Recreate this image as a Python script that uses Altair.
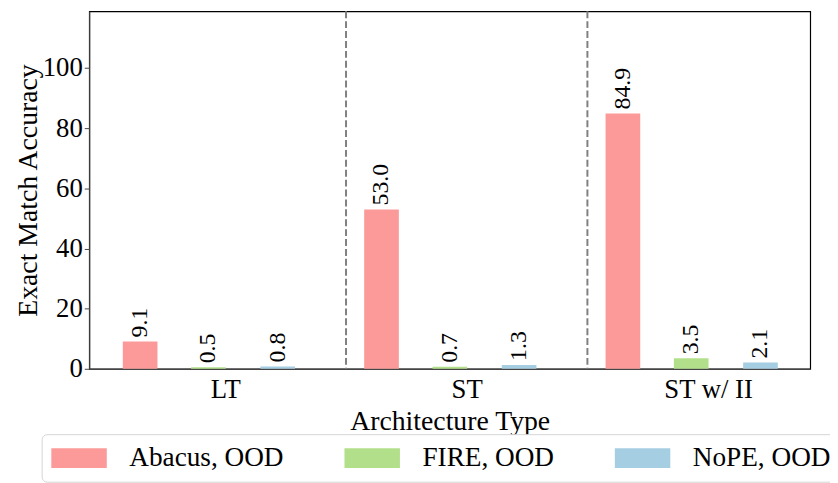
import altair as alt
import pandas as pd

categories = ["LT", "ST", "ST w/ II"]
series = ["Abacus, OOD", "FIRE, OOD", "NoPE, OOD"]
abacus = [9.1, 53.0, 84.9]
fire = [0.5, 0.7, 3.5]
nope = [0.8, 1.3, 2.1]
colors = ["#FB9A99", "#B2DF8A", "#A6CEE3"]

FONT = "Liberation Serif"
offsets = [-0.353, -0.07, 0.217]
half_w = 0.0718

rows = []
for si, (name, vals) in enumerate(zip(series, [abacus, fire, nope])):
    for gi, v in enumerate(vals):
        rows.append({"gi": gi, "si": si, "series": name, "value": v})
df = pd.DataFrame(rows)

xscale = alt.Scale(domain=[-0.564, 2.423], nice=False, zero=False)
yscale = alt.Scale(domain=[0, max(abacus) * 1.4], nice=False)

base = alt.Chart(df).transform_calculate(
    xc="datum.gi + [" + ",".join(str(o) for o in offsets) + "][datum.si]"
).transform_calculate(
    x0=f"datum.xc - {half_w}", x1=f"datum.xc + {half_w}"
)

label_expr = "[" + ",".join(f"'{c}'" for c in categories) + "][datum.value]"

bars = base.mark_bar().encode(
    x=alt.X("x0:Q", scale=xscale,
            axis=alt.Axis(values=list(range(len(categories))), labelExpr=label_expr,
                          title="Architecture Type", ticks=False, grid=False,
                          labelFont=FONT, labelFontSize=27, labelColor="black",
                          labelPadding=8, titleFont=FONT, titleFontSize=28,
                          titleFontWeight="normal", titleColor="black", titlePadding=5,
                          domainColor="#444", domainWidth=1.2)),
    x2="x1:Q",
    y=alt.Y("value:Q", scale=yscale,
            axis=alt.Axis(values=[0, 20, 40, 60, 80, 100], title="Exact Match Accuracy",
                          grid=False, tickSize=5, tickColor="#444", labelPadding=2,
                          labelFont=FONT, labelFontSize=27, labelColor="black",
                          titleFont=FONT, titleFontSize=28, titleFontWeight="normal",
                          titleColor="black", titlePadding=0,
                          domainColor="#444", domainWidth=1.2)),
    y2=alt.datum(0),
    color=alt.Color("series:N", scale=alt.Scale(domain=series, range=colors),
                    legend=alt.Legend(title=None, orient="none", legendX=-48, legendY=427,
                                      direction="horizontal",
                                      symbolType="M-2.8,-1L2.8,-1L2.8,1L-2.8,1Z",
                                      symbolSize=400, symbolOffset=14,
                                      symbolStrokeWidth=0, symbolOpacity=1,
                                      labelFont=FONT, labelFontSize=27.5, labelColor="black",
                                      labelOffset=37, columnPadding=60, padding=10,
                                      strokeColor="#d5d5d5", cornerRadius=5,
                                      fillColor="white", labelLimit=400)),
)

texts = base.mark_text(angle=270, align="left", baseline="middle", dx=4,
                       font=FONT, fontSize=24, color="black").encode(
    x=alt.X("xc:Q", scale=xscale),
    y=alt.Y("value:Q", scale=yscale),
    text=alt.Text("value:Q", format=".1f"),
)

seps = pd.DataFrame({"x": [i + 0.5 for i in range(len(categories) - 1)]})
rules = alt.Chart(seps).mark_rule(color="#808080", strokeWidth=2, strokeDash=[7, 3]).encode(
    x=alt.X("x:Q", scale=xscale)
)

chart = alt.layer(bars, rules, texts).properties(
    width=728, height=361,
    autosize=alt.AutoSizeParams(type="none"),
    padding={"left": 82, "top": 1, "right": 20, "bottom": 113},
).configure_view(stroke="black", strokeWidth=1.2)

chart.save("out.html", embed_options={"renderer": "svg", "actions": False})
